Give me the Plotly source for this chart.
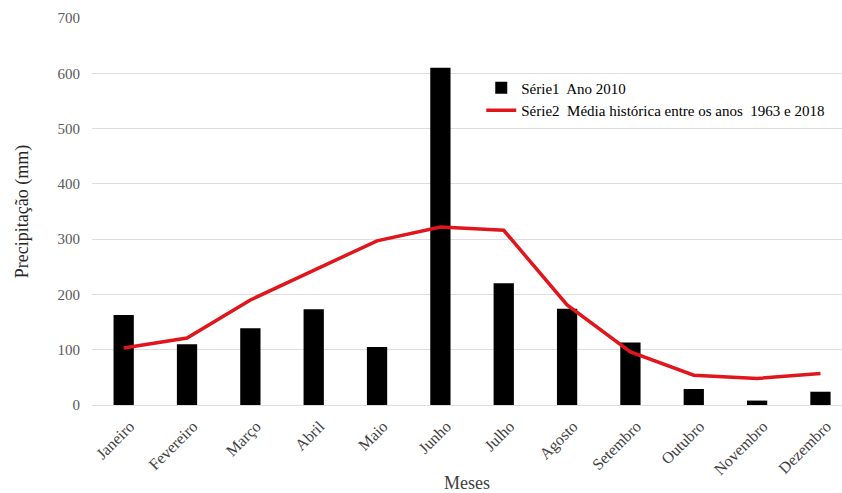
import plotly.graph_objects as go

meses = ["Janeiro", "Fevereiro", "Março", "Abril", "Maio", "Junho", "Julho",
         "Agosto", "Setembro", "Outubro", "Novembro", "Dezembro"]
serie1_2010 = [163, 110, 139, 173, 105, 610, 220, 174, 113, 29, 8, 24]
serie2_media = [103, 121, 190, 244, 297, 322, 316, 181, 96, 54, 48, 57]
y_ticks = [0, 100, 200, 300, 400, 500, 600, 700]

FONT = "Liberation Serif, Times New Roman, serif"

fig = go.Figure()
fig.add_trace(go.Bar(
    x=meses, y=serie1_2010, name="Série1  Ano 2010",
    marker=dict(color="black", line=dict(width=0)), width=0.32,
))
fig.add_trace(go.Scatter(
    x=meses, y=serie2_media, name="Série2  Média histórica entre os anos  1963 e 2018",
    mode="lines", line=dict(color="#E0161C", width=3.5),
))

fig.update_layout(
    width=842, height=493,
    margin=dict(l=92, r=0, t=18, b=88, autoexpand=False),
    paper_bgcolor="white", plot_bgcolor="white",
    font=dict(family=FONT, size=15, color="#404040"),
    showlegend=True,
    legend=dict(
        x=0.519, y=0.862, xanchor="left", yanchor="top",
        bgcolor="rgba(0,0,0,0)", font=dict(family=FONT, size=15, color="black"),
        itemwidth=30, tracegroupgap=2,
    ),
    xaxis=dict(
        range=[-0.5, 11.34], tickangle=-45,
        tickfont=dict(family=FONT, size=16, color="#404040"),
        ticklabelstandoff=8, ticklabelshift=6,
        title=dict(text="Meses", font=dict(family=FONT, size=18, color="#404040"), standoff=0),
        showgrid=False, showline=False, ticks="",
    ),
    yaxis=dict(
        range=[0, 700], tickvals=y_ticks,
        tickfont=dict(family=FONT, size=15, color="#595959"),
        ticklabelstandoff=11,
        title=dict(text="Precipitação (mm)", font=dict(family=FONT, size=18, color="#262626"), standoff=24),
        showgrid=True, gridcolor="#DDDDDD", gridwidth=1,
        zeroline=True, zerolinecolor="#DDDDDD", zerolinewidth=1,
        showline=False, ticks="", ticklen=0,
    ),
    bargap=0.68,
)

fig.write_html("out.html")
